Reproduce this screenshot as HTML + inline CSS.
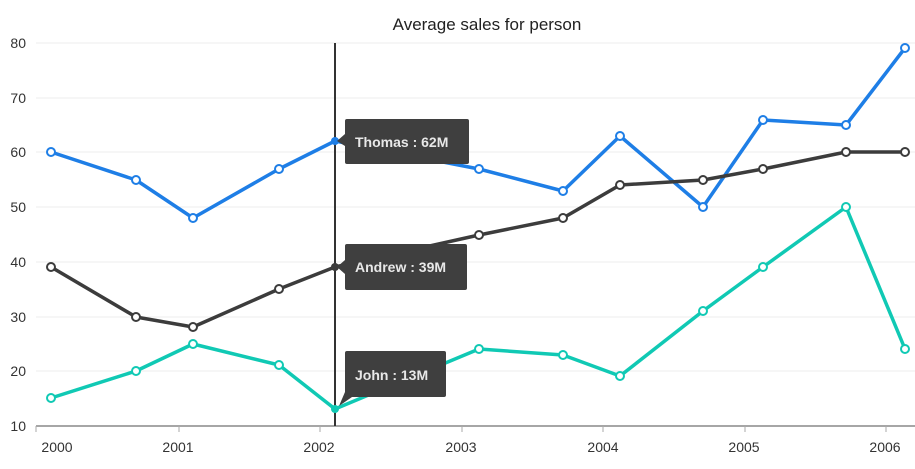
<!DOCTYPE html>
<html><head><style>
body{margin:0;background:#fff;}
svg{display:block;font-family:"Liberation Sans",sans-serif;}
</style></head><body>
<svg width="915" height="469" viewBox="0 0 915 469">
<text x="487" y="30" text-anchor="middle" font-size="17" fill="#222">Average sales for person</text>
<g stroke="#eee" stroke-width="1">
<line x1="36" x2="915" y1="43" y2="43"/><line x1="36" x2="915" y1="98" y2="98"/>
<line x1="36" x2="915" y1="152" y2="152"/><line x1="36" x2="915" y1="207" y2="207"/>
<line x1="36" x2="915" y1="262" y2="262"/><line x1="36" x2="915" y1="317" y2="317"/>
<line x1="36" x2="915" y1="371" y2="371"/>
</g>
<g font-size="14" fill="#333" text-anchor="end">
<text x="26" y="48">80</text><text x="26" y="103">70</text><text x="26" y="157">60</text>
<text x="26" y="212">50</text><text x="26" y="267">40</text><text x="26" y="322">30</text>
<text x="26" y="376">20</text><text x="26" y="431">10</text>
</g>
<line x1="36" x2="915" y1="426" y2="426" stroke="#888" stroke-width="1.5"/>
<g stroke="#aaa"><line x1="36" x2="36" y1="426" y2="432"/><line x1="179" x2="179" y1="426" y2="432"/><line x1="320" x2="320" y1="426" y2="432"/><line x1="462" x2="462" y1="426" y2="432"/><line x1="603" x2="603" y1="426" y2="432"/><line x1="745" x2="745" y1="426" y2="432"/><line x1="886" x2="886" y1="426" y2="432"/></g>
<g font-size="14" fill="#333" text-anchor="middle">
<text x="57" y="452">2000</text><text x="178" y="452">2001</text><text x="319" y="452">2002</text>
<text x="461" y="452">2003</text><text x="603" y="452">2004</text><text x="744" y="452">2005</text><text x="885" y="452">2006</text>
</g>
<g fill="none" stroke-width="3.5" stroke-linejoin="round">
<polyline stroke="#1e7ee6" points="51,152 136,180 193,218 279,169 335,141 479,169 563,191 620,136 703,207 763,120 846,125 905,48"/>
<polyline stroke="#3c3c3c" points="51,267 136,317 193,327 279,289 335,267 479,235 563,218 620,185 703,180 763,169 846,152 905,152"/>
<polyline stroke="#10c9b4" points="51,398 136,371 193,344 279,365 335,409 479,349 563,355 620,376 703,311 763,267 846,207 905,349"/>
</g>
<g fill="#fff" stroke-width="2">
<g stroke="#1e7ee6"><circle cx="51" cy="152" r="4"/><circle cx="136" cy="180" r="4"/><circle cx="193" cy="218" r="4"/><circle cx="279" cy="169" r="4"/><circle cx="479" cy="169" r="4"/><circle cx="563" cy="191" r="4"/><circle cx="620" cy="136" r="4"/><circle cx="703" cy="207" r="4"/><circle cx="763" cy="120" r="4"/><circle cx="846" cy="125" r="4"/><circle cx="905" cy="48" r="4"/></g>
<g stroke="#3c3c3c"><circle cx="51" cy="267" r="4"/><circle cx="136" cy="317" r="4"/><circle cx="193" cy="327" r="4"/><circle cx="279" cy="289" r="4"/><circle cx="479" cy="235" r="4"/><circle cx="563" cy="218" r="4"/><circle cx="620" cy="185" r="4"/><circle cx="703" cy="180" r="4"/><circle cx="763" cy="169" r="4"/><circle cx="846" cy="152" r="4"/><circle cx="905" cy="152" r="4"/></g>
<g stroke="#10c9b4"><circle cx="51" cy="398" r="4"/><circle cx="136" cy="371" r="4"/><circle cx="193" cy="344" r="4"/><circle cx="279" cy="365" r="4"/><circle cx="479" cy="349" r="4"/><circle cx="563" cy="355" r="4"/><circle cx="620" cy="376" r="4"/><circle cx="703" cy="311" r="4"/><circle cx="763" cy="267" r="4"/><circle cx="846" cy="207" r="4"/><circle cx="905" cy="349" r="4"/></g>
</g>
<line x1="335" x2="335" y1="43" y2="426" stroke="#333" stroke-width="2"/>
<circle cx="335" cy="141" r="4" fill="#1e7ee6"/><circle cx="335" cy="267" r="4" fill="#3c3c3c"/><circle cx="335" cy="409" r="4" fill="#10c9b4"/>
<g fill="#3f3f3f">
<rect x="345" y="119" width="124" height="45" rx="2"/><path d="M345,134 L337,141 L345,146Z"/>
<rect x="345" y="244" width="122" height="46" rx="2"/><path d="M345,260 L337,267 L345,274Z"/>
<rect x="345" y="351" width="101" height="46" rx="2"/><path d="M345,392 L339,406 L352,397Z"/>
</g>
<g font-size="14" fill="#e8e8e8" font-weight="bold">
<text x="355" y="147">Thomas : 62M</text>
<text x="355" y="272">Andrew : 39M</text>
<text x="355" y="380">John : 13M</text>
</g>
</svg>
</body></html>
